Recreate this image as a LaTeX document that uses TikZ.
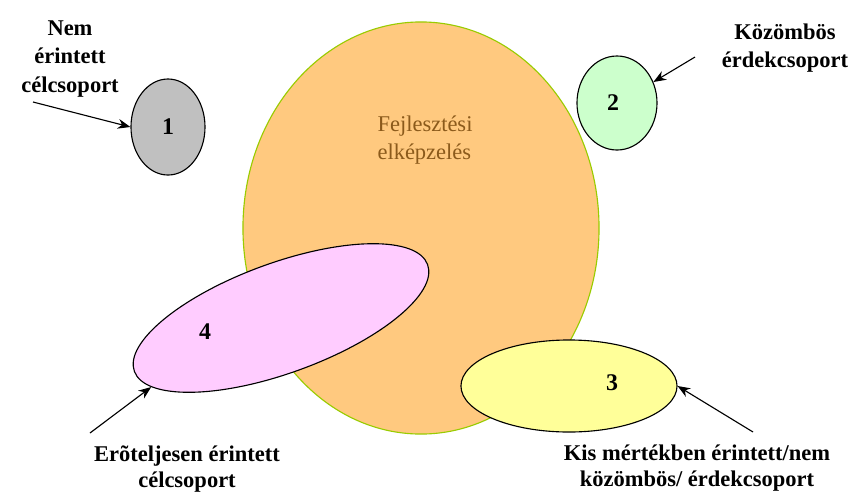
\documentclass[tikz,border=0pt]{standalone}
\usepackage{fontspec}
\setmainfont{Liberation Serif}
\usetikzlibrary{arrows.meta, shapes.geometric}
\definecolor{ideafill}{HTML}{FFC97F}
\definecolor{ideaedge}{HTML}{99CC00}
\definecolor{ideatext}{HTML}{8B5A1B}
\definecolor{grayfill}{HTML}{C0C0C0}
\definecolor{greenfill}{HTML}{CCFFCC}
\definecolor{pinkfill}{HTML}{FFCCFF}
\definecolor{yellowfill}{HTML}{FFFF99}

\tikzset{
  group/.style={ellipse, draw=black, line width=0.8pt, inner sep=0pt},
  lbl/.style={font=\fontsize{16}{20}\selectfont\bfseries, align=center},
  num/.style={font=\fontsize{17}{20}\selectfont\bfseries},
  pointer/.style={-{Stealth[length=9pt,width=7pt]}, line width=0.8pt}
}

\begin{document}
\begin{tikzpicture}[x=0.025cm, y=-0.025cm]
\useasboundingbox (0,0) rectangle (858,496);

% big idea
\node[ellipse, fill=ideafill, draw=ideaedge, line width=0.8pt, inner sep=0pt,
      minimum width=8.9cm, minimum height=10.3cm] (idea) at (421,228) {};
\node[font=\fontsize{16}{20}\selectfont, text=ideatext, align=left] (ideatxt) at (425,140) {Fejlesztési\\elképzelés};

% groups
\node[group, fill=grayfill, minimum width=1.85cm, minimum height=2.4cm] (g1) at (168,127) {};
\node[group, fill=greenfill, minimum width=2cm, minimum height=2.35cm] (g2) at (617,103) {};
\node[group, fill=pinkfill, rotate=20, minimum width=7.8cm, minimum height=2.75cm] (g4) at (281,318) {};
\node[group, fill=yellowfill, minimum width=5.4cm, minimum height=2.3cm] (g3) at (569,386) {};

\node[num] (n1) at (168,127) {1};
\node[num] (n2) at (613,103) {2};
\node[num] (n3) at (612,383) {3};
\node[num] (n4) at (205,332) {4};

% labels
\node[lbl, font=\fontsize{16}{20.5}\selectfont\bfseries] (l1) at (70,59) {Nem\\érintett\\célcsoport};
\node[lbl] (l2) at (785,48) {Közömbös\\érdekcsoport};
\node[lbl, font=\fontsize{16}{19}\selectfont\bfseries] (l4) at (187,469) {Erõteljesen érintett\\célcsoport};
\node[lbl, font=\fontsize{16}{19}\selectfont\bfseries] (l3) at (697,468) {Kis mértékben érintett/nem\\közömbös/ érdekcsoport};

% pointers
\coordinate (p1) at (33,102);
\coordinate (p2) at (695,57);
\coordinate (p4) at (90,433);
\coordinate (p3) at (753,432);
\draw[pointer] (p1) -- (g1.west);
\draw[pointer] (p2) -- (g2.30);
\draw[pointer] (p4) -- (g4.188);
\draw[pointer] (p3) -- (g3.east);
\end{tikzpicture}
\end{document}
